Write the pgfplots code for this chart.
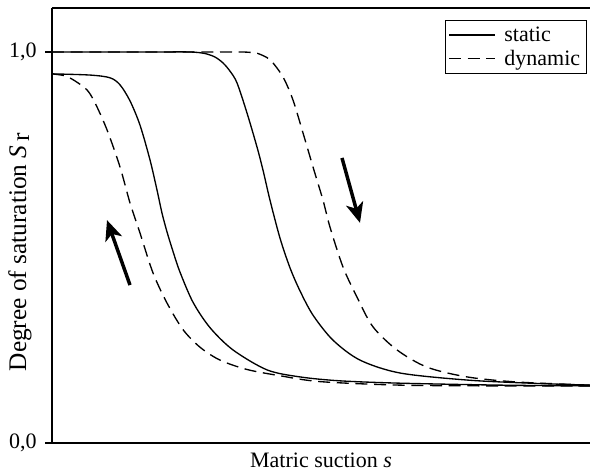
\documentclass[border=0pt]{standalone}
\usepackage{fontspec}
\setmainfont{Liberation Serif}
\usepackage{pgfplots}
\pgfplotsset{compat=1.18}
\usetikzlibrary{arrows.meta}
\newcommand{\bigf}{\fontsize{16.5}{19.5}\selectfont}
\begin{document}
\begin{tikzpicture}[font=\bigf]
\begin{axis}[
  scale only axis,
  width=403.5pt, height=326.25pt,
  xmin=0, xmax=538, ymin=0, ymax=1.1125,
  axis x line=box, axis y line=left,
  axis line style={-, line width=1.1pt},
  every inner y axis line/.append style={-},
  every outer x axis line/.append style={-},
  xtick=\empty,
  ytick={0,1}, yticklabels={{0,0},{1,0}},
  tick align=outside, major tick length=5pt,
  tick style={line width=1.1pt, black},
  yticklabel style={font=\bigf, xshift=-3pt},
  xlabel={Matric suction \textit{s}},
  ylabel={Degree of saturation \textit{S}\raisebox{-0.25ex}{\,r}},
  every axis x label/.style={at={(axis description cs:0.5,0)}, anchor=base, yshift=-18.75pt, font=\bigf},
  every axis y label/.style={at={(axis description cs:-0.0595,0.439)}, rotate=90, anchor=center, font=\fontsize{19}{22}\selectfont},
  legend style={at={(axis description cs:0.9938,0.972)}, anchor=north east, draw=black, line width=0.8pt, font=\bigf, inner xsep=2.5pt, inner ysep=2.5pt, row sep=1pt, column sep=4.5pt, cells={anchor=west}},
  legend image code/.code={\draw[#1] (0pt,0pt) -- (34.5pt,0pt);},
  clip=false,
]
% static drying (upper solid)
\addplot[black, line width=1pt, smooth, forget plot] coordinates {
(0,1.0) (100,1.0) (138,1.0) (153,0.996) (163,0.987) (171,0.972) (178,0.951) (185,0.921) (195,0.844)
(205,0.757) (211,0.698) (218,0.621) (228,0.524) (238,0.448) (248,0.389) (261,0.327) (281,0.263)
(308,0.212) (348,0.179) (415,0.161) (478,0.153) (538,0.148)};
% dynamic drying (upper dashed)
\addplot[black, line width=1pt, smooth, dash pattern=on 9pt off 5pt, forget plot] coordinates {
(0,1.0) (150,1.0) (188,1.0) (198,0.999) (205,0.997) (218,0.980) (231,0.936) (241,0.877) (251,0.793)
(261,0.706) (271,0.621) (278,0.552) (291,0.450) (305,0.373) (321,0.297) (345,0.238) (375,0.194)
(415,0.169) (465,0.156) (538,0.148)};
% static wetting (lower solid)
\addplot[black, line width=1pt, smooth] coordinates {
(0,0.944) (38,0.941) (58,0.934) (68,0.916) (78,0.875) (88,0.813) (98,0.724) (105,0.647) (110,0.588)
(115,0.540) (121,0.490) (128,0.437) (141,0.360) (158,0.295) (181,0.238) (215,0.187) (248,0.169)
(288,0.159) (348,0.153) (448,0.148) (538,0.146)};
\addlegendentry{static}
% dynamic wetting (lower dashed)
\addplot[black, line width=1pt, smooth, dash pattern=on 9pt off 5pt] coordinates {
(0,0.944) (13,0.939) (23,0.926) (35,0.903) (43,0.870) (55,0.801) (68,0.706) (78,0.614) (88,0.537)
(101,0.435) (115,0.358) (131,0.290) (148,0.245) (168,0.212) (195,0.188) (228,0.172) (268,0.157)
(348,0.148) (448,0.146) (538,0.146)};
\addlegendentry{dynamic}
\draw[line width=2.6pt, -{Stealth[length=15pt,width=13pt,inset=4pt]}] (axis cs:78,0.404) -- (axis cs:55,0.570);
\draw[line width=2.6pt, -{Stealth[length=15pt,width=13pt,inset=4pt]}] (axis cs:290,0.729) -- (axis cs:308,0.563);
\end{axis}
\pgfresetboundingbox
\path ([xshift=-39pt,yshift=-21.75pt]current axis.south west) rectangle ([yshift=6pt]current axis.north east);
\end{tikzpicture}
\end{document}
